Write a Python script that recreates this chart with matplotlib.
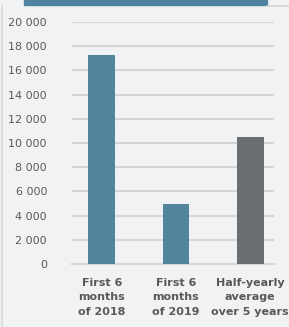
"""
Bar chart: first 6 months 2018 / 2019 vs half-yearly average
"""

import matplotlib.pyplot as plt
from matplotlib.patches import Rectangle

categories = ['First 6\nmonths\nof 2018', 'First 6\nmonths\nof 2019', 'Half-yearly\naverage\nover 5 years']
values = [17250, 4950, 10500]
yticks = [0, 2000, 4000, 6000, 8000, 10000, 12000, 14000, 16000, 18000, 20000]
ytick_labels = ['0', '2 000', '4 000', '6 000', '8 000', '10 000', '12 000',
                '14 000', '16 000', '18 000', '20 000']

blue = '#52849C'
grey = '#6B6E71'
text_col = '#595959'

W, H = 289, 327
fig = plt.figure(figsize=(W / 100, H / 100), dpi=100)
fig.patch.set_facecolor('#F1F2F4')

# header strip and frame lines
fig.patches.append(Rectangle((24 / W, 1 - 4.5 / H), 243 / W, 4.5 / H,
                             transform=fig.transFigure, color='#4F82A0', zorder=0))
fig.add_artist(plt.Line2D([267 / W, 1], [1 - 5.5 / H, 1 - 5.5 / H],
                          transform=fig.transFigure, color='#D4D4D4', lw=1.2))
fig.add_artist(plt.Line2D([1.5 / W, 1.5 / W], [0, 1 - 5.5 / H],
                          transform=fig.transFigure, color='#DDDDDD', lw=1.5))

ax = fig.add_axes([72 / W, 1 - 264 / H, 202 / W, 242 / H])
ax.set_facecolor('none')
colors = [blue, blue, grey]
ax.bar(range(len(values)), values, width=0.36, color=colors, zorder=3)

ax.set_ylim(0, 20000)
ax.set_xlim(-0.4, 2.32)
ax.set_yticks(yticks)
ax.set_yticklabels(ytick_labels)
ax.yaxis.grid(True, color='#D5D5D5', lw=1.5, zorder=0)
ax.tick_params(axis='y', length=0, pad=18, labelsize=8, labelcolor=text_col)
ax.set_xticks(range(len(values)))
ax.set_xticklabels(categories, fontweight='bold', fontsize=8, color=text_col,
                   linespacing=1.55)
ax.tick_params(axis='x', length=0, pad=10)
for s in ['top', 'right', 'left']:
    ax.spines[s].set_visible(False)
ax.spines['bottom'].set_color('#D5D5D5')
ax.spines['bottom'].set_linewidth(1.5)

fig.savefig('out.png', dpi=100, facecolor=fig.get_facecolor())
